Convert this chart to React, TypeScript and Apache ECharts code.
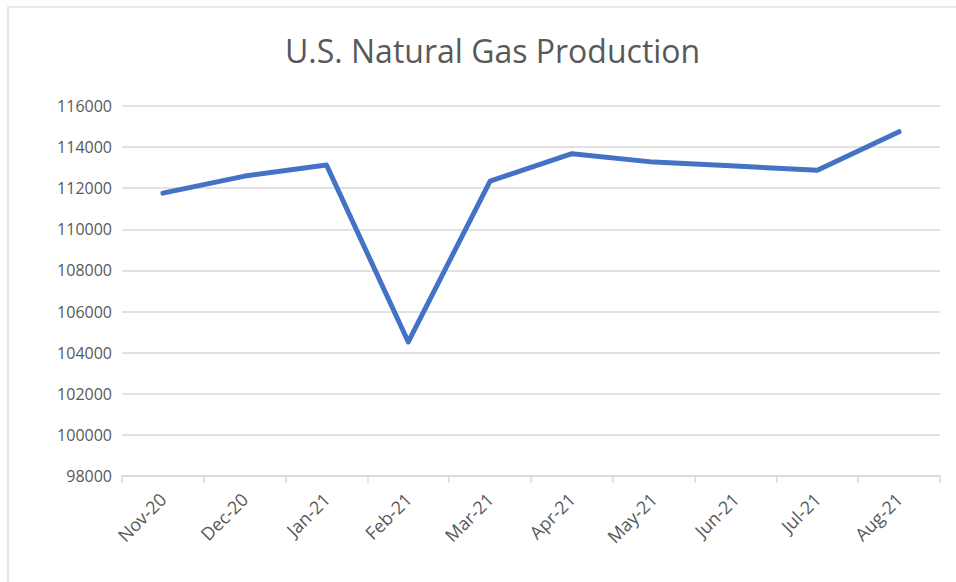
import React, { useEffect, useRef } from "react";
import * as echarts from "echarts";

const title = "U.S. Natural Gas Production";
const categories = ["Nov-20", "Dec-20", "Jan-21", "Feb-21", "Mar-21", "Apr-21", "May-21", "Jun-21", "Jul-21", "Aug-21"];
const production = [111760, 112590, 113130, 104520, 112350, 113680, 113270, 113080, 112870, 114750];
const yMin = 98000;
const yMax = 116000;
const yStep = 2000;

export default function App() {
  const ref = useRef<HTMLDivElement>(null);
  useEffect(() => {
    if (!ref.current) return;
    const chart = echarts.init(ref.current, undefined, { renderer: "svg" });
    chart.setOption({
      animation: false,
      backgroundColor: "#ffffff",
      title: {
        text: title,
        left: 280,
        top: 29,
        textStyle: {
          fontFamily: "Open Sans",
          fontWeight: "normal",
          fontSize: 32,
          color: "#595959",
        },
      },
      graphic: [
        {
          type: "rect",
          shape: { x: 8, y: 7, width: 1000, height: 1000 },
          style: { fill: "none", stroke: "#e2e2e2", lineWidth: 1.5 },
          silent: true,
          z: -1,
        },
      ],
      grid: { left: 122, right: 16, top: 106, bottom: 106 },
      xAxis: {
        type: "category",
        data: categories,
        boundaryGap: true,
        axisLine: { show: true, lineStyle: { color: "#d9d9d9", width: 1.5 } },
        axisTick: { show: true, length: 7, lineStyle: { color: "#d9d9d9", width: 1.5 } },
        axisLabel: {
          rotate: 45,
          margin: 20,
          fontFamily: "Open Sans",
          fontSize: 18,
          color: "#595959",
        },
      },
      yAxis: {
        type: "value",
        min: yMin,
        max: yMax,
        interval: yStep,
        axisLine: { show: false },
        axisTick: { show: false },
        splitLine: { lineStyle: { color: "#d9d9d9", width: 1.5 } },
        axisLabel: {
          margin: 10,
          fontFamily: "Open Sans",
          fontSize: 16,
          color: "#595959",
          formatter: (v: number) => String(v),
        },
      },
      series: [
        {
          type: "line",
          data: production,
          symbol: "none",
          lineStyle: { color: "#4472C4", width: 5, cap: "round", join: "round" },
        },
      ],
    });
    return () => chart.dispose();
  }, []);
  return (
    <div
      ref={ref}
      style={{ position: "absolute", left: 0, top: 0, width: 956, height: 582 }}
    />
  );
}
